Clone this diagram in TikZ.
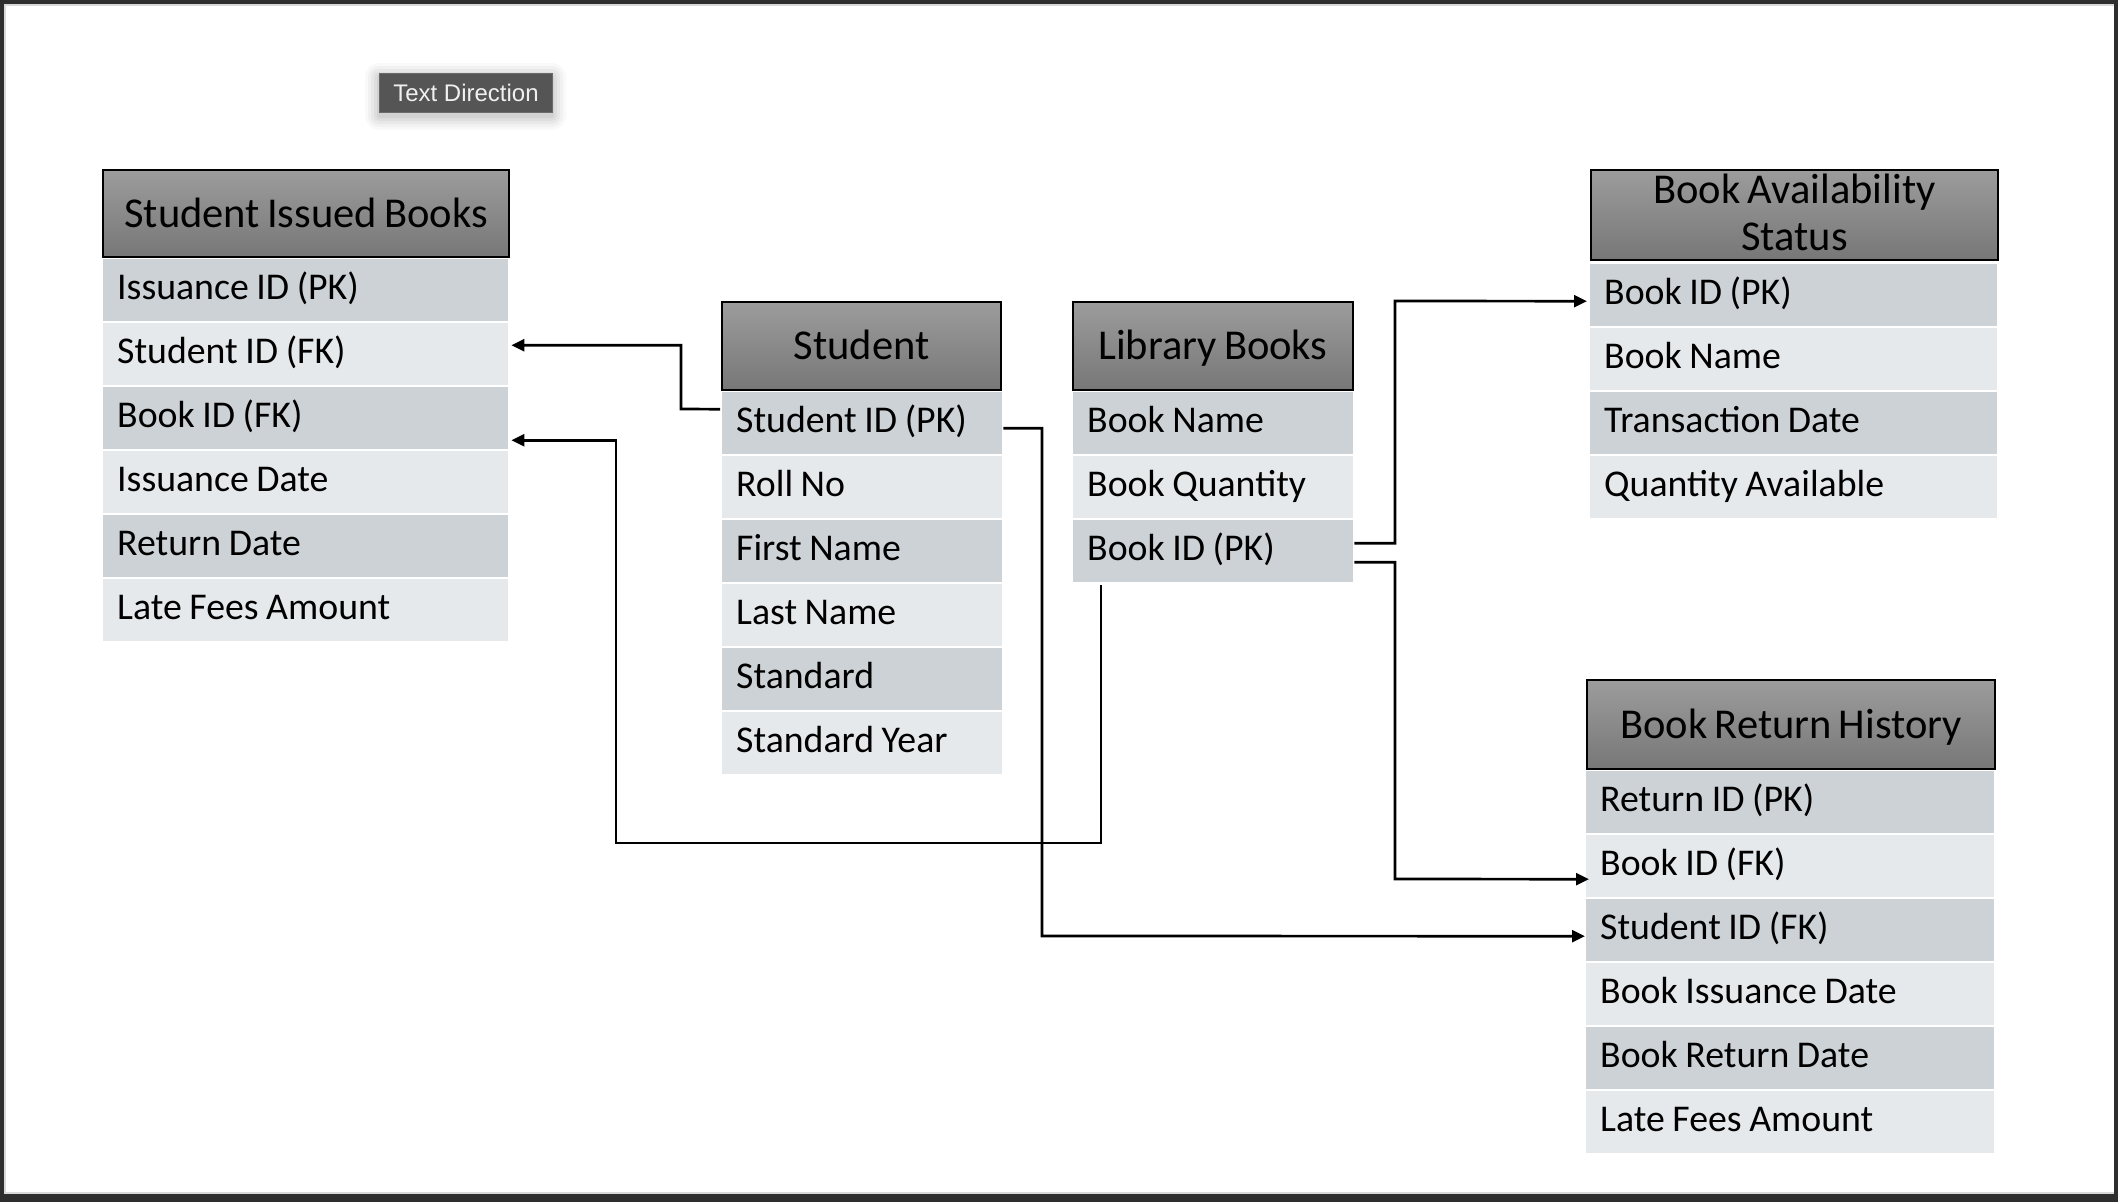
\documentclass[tikz,border=0pt]{standalone}
\usepackage{fontspec}
\setmainfont{Carlito}[WordSpace=0.75]
\newfontfamily\uifont{Liberation Sans}
\usetikzlibrary{arrows.meta}
\definecolor{framedark}{HTML}{2E2E2E}
\definecolor{framelight}{HTML}{D9D9D9}
\definecolor{hdrtop}{HTML}{9C9C9C}
\definecolor{hdrbot}{HTML}{777777}
\definecolor{rowdark}{HTML}{CDD2D6}
\definecolor{rowlight}{HTML}{E6E9EC}
\definecolor{tipfill}{HTML}{555555}
\definecolor{tipdraw}{HTML}{6B6B6B}
\definecolor{tiptext}{HTML}{F0F0F0}
\tikzset{
  hdr/.style={draw=black, line width=2pt, top color=hdrtop, bottom color=hdrbot,
    anchor=north west, inner sep=0pt, font=\fontsize{42.5}{48}\selectfont,
    text height=30pt, text depth=2.8pt},
  hdrtwo/.style={draw=black, line width=2pt, top color=hdrtop, bottom color=hdrbot,
    anchor=north west, inner sep=0pt, font=\fontsize{42.5}{48}\selectfont, align=center,
    text depth=6pt},
  erow/.style={anchor=north west, inner xsep=14pt, inner ysep=0pt, minimum height=62pt,
    align=left, font=\fontsize{37.8}{44}\selectfont, text height=26.5pt, text depth=8.5pt,
    execute at begin node={\spaceskip=0.2em\relax\xspaceskip=0.2em\relax}},
  conn/.style={line width=2.7pt, -{Triangle[length=13pt,width=12pt]}},
}
\begin{document}
\begin{tikzpicture}[x=1pt,y=-1pt]
% frame
\useasboundingbox (0,0) rectangle (2118,1202);
\fill[framedark] (0,0) rectangle (2118,1202);
\fill[framelight] (4,4) rectangle (2114,1194);
\fill[white] (6,6) rectangle (2114,1192);

% tooltip "Text Direction"
\foreach \s/\o in {14/0.025,11/0.03,8/0.035,5/0.04,2/0.05}{
  \fill[black, opacity=\o, rounded corners=\s pt] (379-\s,77-\s) rectangle (552+\s,116+\s);
}
\node[draw=tipdraw, fill=tipfill, line width=1pt, minimum width=173pt, minimum height=39pt,
  inner sep=0pt, text=tiptext, font=\uifont\fontsize{24}{28}\selectfont, anchor=north west]
  (tip) at (379,73) {Text Direction};

% Table 1: Student Issued Books
\node[hdr, minimum width=406pt, minimum height=87pt] (t1h) at (102,169) {Student Issued Books};
\foreach \t [count=\i] in {Issuance ID (PK), Student ID (FK), Book ID (FK), Issuance Date, Return Date, Late Fees Amount}{
  \ifodd\i \def\rc{rowdark}\else\def\rc{rowlight}\fi
  \node[erow, fill=\rc, text width=377pt] (t1r\i) at (103,{259+64*(\i-1)}) {\t};
}

% Table 2: Student
\node[hdr, minimum width=279pt, minimum height=88pt] (t2h) at (721,301) {Student};
\foreach \t [count=\i] in {Student ID (PK), Roll No, First Name, Last Name, Standard, Standard Year}{
  \ifodd\i \def\rc{rowdark}\else\def\rc{rowlight}\fi
  \node[erow, fill=\rc, text width=252pt] (t2r\i) at (722,{392+64*(\i-1)}) {\t};
}

% Table 3: Library Books
\node[hdr, minimum width=280pt, minimum height=88pt] (t3h) at (1072,301) {Library Books};
\foreach \t [count=\i] in {Book Name, Book Quantity, Book ID (PK)}{
  \ifodd\i \def\rc{rowdark}\else\def\rc{rowlight}\fi
  \node[erow, fill=\rc, text width=252pt] (t3r\i) at (1073,{392+64*(\i-1)}) {\t};
}

% Table 4: Book Availability Status
\node[hdrtwo, minimum width=407pt, minimum height=90pt] (t4h) at (1590,169) {Book Availability\\[-1pt]Status};
\foreach \t [count=\i] in {Book ID (PK), Book Name, Transaction Date, Quantity Available}{
  \ifodd\i \def\rc{rowdark}\else\def\rc{rowlight}\fi
  \node[erow, fill=\rc, text width=379pt] (t4r\i) at (1590,{264+64*(\i-1)}) {\t};
}

% Table 5: Book Return History
\node[hdr, minimum width=408pt, minimum height=89pt] (t5h) at (1586,679) {Book Return History};
\foreach \t [count=\i] in {Return ID (PK), Book ID (FK), Student ID (FK), Book Issuance Date, Book Return Date, Late Fees Amount}{
  \ifodd\i \def\rc{rowdark}\else\def\rc{rowlight}\fi
  \node[erow, fill=\rc, text width=380pt] (t5r\i) at (1586,{771+64*(\i-1)}) {\t};
}

% connectors
\coordinate (k1) at (681,409);
\draw[conn] ([xshift=-2pt,yshift=14pt]t2r1.west) -- (k1) |- ([xshift=3pt,yshift=9pt]t1r2.east);

\coordinate (k2) at (616,843);
\draw[conn] ([xshift=28pt,yshift=-3pt]t3r3.south west) |- (k2) |- ([xshift=3pt,yshift=-22pt]t1r3.east);

\coordinate (k3) at (1042,936);
\draw[conn] ([xshift=1pt,yshift=-5pt]t2r1.east) -| (k3) -- ([xshift=-1pt,yshift=-6pt]t5r3.west);

\coordinate (k4) at (1395,301);
\draw[conn] ([xshift=1pt,yshift=8pt]t3r3.east) -| (k4) -- ([xshift=-3pt,yshift=-6pt]t4r1.west);

\coordinate (k5) at (1395,879);
\draw[conn] ([xshift=1pt,yshift=-11pt]t3r3.east) -| (k5) -- ([xshift=3pt,yshift=-13pt]t5r2.west);
\end{tikzpicture}
\end{document}
